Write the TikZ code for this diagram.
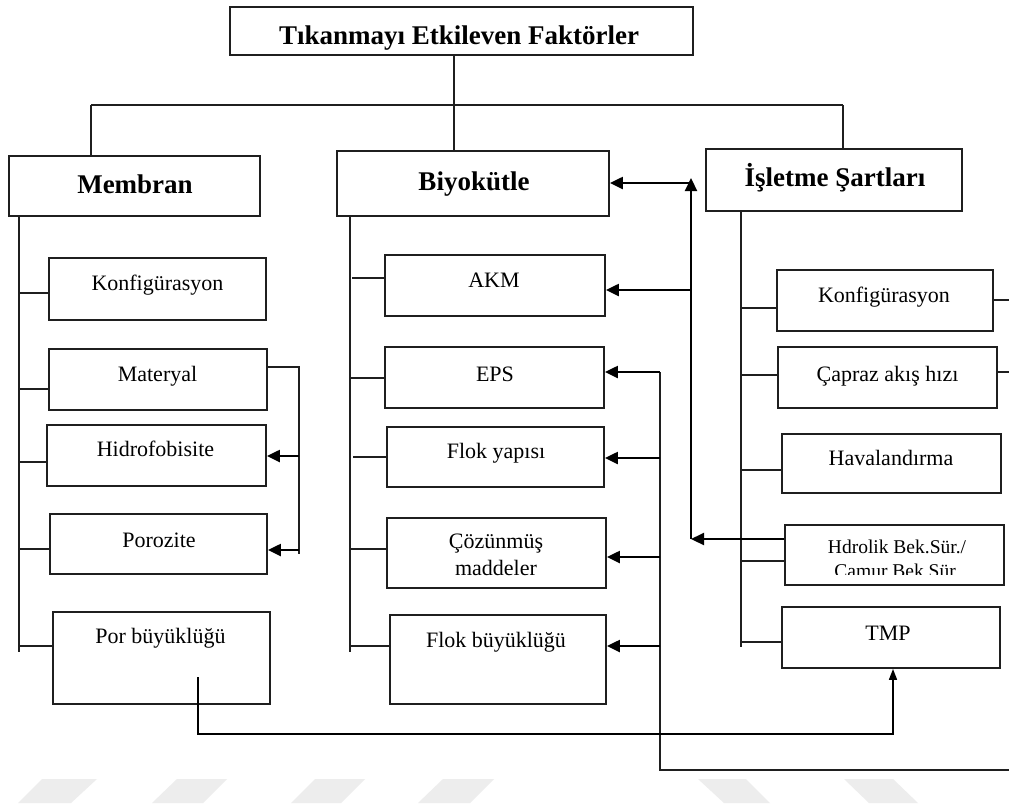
\documentclass[tikz,border=0pt]{standalone}
\usepackage{fontspec}
\setmainfont{Liberation Serif}
\usetikzlibrary{arrows.meta}
\begin{document}
\begin{tikzpicture}[x=1pt,y=-1pt,
 box/.style={draw=black!88, line width=1.8pt, inner sep=0pt, fill=white},
 ln/.style={line width=1.6pt, draw=black!88},
 arr/.style={line width=2.2pt, draw=black, -{Triangle[length=13pt,width=12pt]}},
 arrs/.style={line width=1.6pt, draw=black, -{Triangle[length=11pt,width=8pt]}},
 ttl/.style={font=\fontsize{27}{30}\selectfont\bfseries, inner sep=0pt, anchor=base},
 lbl/.style={font=\fontsize{22}{26}\selectfont, inner sep=0pt, anchor=base},
 sml/.style={font=\fontsize{19.5}{23}\selectfont, inner sep=0pt, anchor=base},
 wm/.style={fill=black!7, draw=none}]
\useasboundingbox (0,0) rectangle (1009,804);
\fill[white] (0,0) rectangle (1009,804);

% watermark
\fill[wm] (18,803) -- (42,779) -- (97,779) -- (71,803) -- cycle;
\fill[wm] (152,803) -- (177,779) -- (227,779) -- (203,803) -- cycle;
\fill[wm] (291,803) -- (315,779) -- (365,779) -- (341,803) -- cycle;
\fill[wm] (418,803) -- (443,779) -- (494,779) -- (470,803) -- cycle;
\fill[wm] (698,779) -- (746,779) -- (770,803) -- (724,803) -- cycle;
\fill[wm] (844,779) -- (893,779) -- (918,803) -- (869,803) -- cycle;

% boxes
\node[box, minimum width=463pt, minimum height=48pt] (top) at (461.5,31) {};
\node[box, minimum width=251pt, minimum height=60pt] (mem) at (134.5,186) {};
\node[box, minimum width=272pt, minimum height=65pt] (bio) at (473,183.5) {};
\node[box, minimum width=256pt, minimum height=62pt] (isl) at (834,180) {};

\node[box, minimum width=217pt, minimum height=62pt] (mk) at (157.5,289) {};
\node[box, minimum width=218pt, minimum height=61pt] (mat) at (158,379.5) {};
\node[box, minimum width=219pt, minimum height=61pt] (hid) at (156.5,455.5) {};
\node[box, minimum width=217pt, minimum height=60pt] (por) at (158.5,544) {};
\node[box, minimum width=217pt, minimum height=92pt] (pb) at (161.5,658) {};

\node[box, minimum width=220pt, minimum height=61pt] (akm) at (495,285.5) {};
\node[box, minimum width=219pt, minimum height=61pt] (eps) at (494.5,377.5) {};
\node[box, minimum width=217pt, minimum height=60pt] (fy) at (495.5,457) {};
\node[box, minimum width=219pt, minimum height=70pt] (cm) at (496.5,553) {};
\node[box, minimum width=216pt, minimum height=89pt] (fb) at (498,659.5) {};

\node[box, minimum width=216pt, minimum height=61pt] (ik) at (885,300.5) {};
\node[box, minimum width=219pt, minimum height=61pt] (cap) at (887.5,377.5) {};
\node[box, minimum width=219pt, minimum height=59pt] (hav) at (891.5,463.5) {};
\node[box, minimum width=219pt, minimum height=60pt] (hdr) at (894.5,555) {};
\node[box, minimum width=218pt, minimum height=61pt] (tmp) at (891,637.5) {};

% labels
\node[ttl] (lTop) at (459,44) {Tıkanmayı Etkileven Faktörler};
\node[ttl] (lMem) at (135,193) {Membran};
\node[ttl] (lBio) at (474,190) {Biyokütle};
\node[ttl] (lIsl) at (835,186) {İşletme Şartları};

\node[lbl] (lMk) at (157.5,290) {Konfigürasyon};
\node[lbl] (lMat) at (157.5,381) {Materyal};
\node[lbl] (lHid) at (155.5,456) {Hidrofobisite};
\node[lbl] (lPor) at (159,547) {Porozite};
\node[lbl] (lPb) at (160.5,643) {Por büyüklüğü};

\node[lbl] (lAkm) at (494,287) {AKM};
\node[lbl] (lEps) at (495,381) {EPS};
\node[lbl] (lFy) at (496,458) {Flok yapısı};
\node[lbl] (lCm1) at (496,548) {Çözünmüş};
\node[lbl] (lCm2) at (496,575) {maddeler};
\node[lbl] (lFb) at (496,647) {Flok büyüklüğü};

\node[lbl] (lIk) at (884,302) {Konfigürasyon};
\node[lbl] (lCap) at (887.5,381) {Çapraz akış hızı};
\node[lbl] (lHav) at (891,465) {Havalandırma};
\begin{scope}
\clip (786,526) rectangle (1003,574);
\node[sml] (lHdr1) at (897,553) {Hdrolik Bek.Sür./};
\node[sml] (lHdr2) at (897,577) {Çamur Bek.Sür.};
\end{scope}
\node[lbl] (lTmp) at (888,640) {TMP};

% top bus
\coordinate (bus) at (454,105);
\coordinate (busL) at (91,105);
\coordinate (busR) at (843,105);
\draw[ln] (top.south -| bus) -- (bus);
\draw[ln] (busL) -- (busR);
\draw[ln] (busL) -- (busL |- mem.north);
\draw[ln] (bus) -- (bus |- bio.north);
\draw[ln] (busR) -- (busR |- isl.north);

% Membran spine
\coordinate (msE) at (19,652);
\draw[ln] (msE |- mem.south) -- (msE);
\coordinate (m1) at (19,293); \draw[ln] (m1) -- (m1 -| mk.west);
\coordinate (m2) at (19,389); \draw[ln] (m2) -- (m2 -| mat.west);
\coordinate (m3) at (19,462); \draw[ln] (m3) -- (m3 -| hid.west);
\coordinate (m4) at (19,549); \draw[ln] (m4) -- (m4 -| por.west);
\coordinate (m5) at (19,646); \draw[ln] (m5) -- (m5 -| pb.west);

% Biyokutle spine
\coordinate (bsE) at (350,652);
\draw[ln] (bsE |- bio.south) -- (bsE);
\coordinate (b1) at (352,278); \draw[ln] (b1) -- (b1 -| akm.west);
\coordinate (b2) at (350,378); \draw[ln] (b2) -- (b2 -| eps.west);
\coordinate (b3) at (353,457); \draw[ln] (b3) -- (b3 -| fy.west);
\coordinate (b4) at (350,549); \draw[ln] (b4) -- (b4 -| cm.west);
\coordinate (b5) at (350,646); \draw[ln] (b5) -- (b5 -| fb.west);

% Isletme spine
\coordinate (isE) at (741,647);
\draw[ln] (isE |- isl.south) -- (isE);
\coordinate (i1) at (741,308); \draw[ln] (i1) -- (i1 -| ik.west);
\coordinate (i2) at (741,375); \draw[ln] (i2) -- (i2 -| cap.west);
\coordinate (i3) at (741,470); \draw[ln] (i3) -- (i3 -| hav.west);
\coordinate (i4) at (741,561); \draw[ln] (i4) -- (i4 -| hdr.west);
\coordinate (i5) at (741,642); \draw[ln] (i5) -- (i5 -| tmp.west);

% right stubs
\coordinate (ikR) at (1009,300); \draw[ln] (ik.east |- ikR) -- (ikR);
\coordinate (capR) at (1009,372); \draw[ln] (cap.east |- capR) -- (capR);

% Materyal bracket
\coordinate (mbT) at (299,367);
\coordinate (mbB) at (299,554);
\draw[ln] (mat.east |- mbT) -- (mbT) -- (mbB);
\coordinate (mh) at (299,456); \draw[arr] (mh) -- (mh -| hid.east);
\coordinate (mp) at (299,550); \draw[arr] (mp) -- (mp -| por.east);

% Hidrolik -> Biyokutle / AKM
\coordinate (hv) at (691,539);
\coordinate (hvT) at (691,178);
\draw[arr] (hdr.west |- hv) -- (hv);
\draw[arr] (hv) -- (hvT);
\coordinate (hb) at (691,183); \draw[arr] (hb) -- (hb -| bio.east);
\coordinate (ha) at (691,290); \draw[arr] (ha) -- (ha -| akm.east);

% right vertical x=660
\coordinate (ev) at (660,372);
\coordinate (evB) at (660,770);
\coordinate (evR) at (1009,770);
\draw[ln] (ev) -- (evB) -- (evR);
\draw[arr] (ev) -- (ev -| eps.east);
\coordinate (e2) at (660,458); \draw[arr] (e2) -- (e2 -| fy.east);
\coordinate (e3) at (660,557); \draw[arr] (e3) -- (e3 -| cm.east);
\coordinate (e4) at (660,646); \draw[arr] (e4) -- (e4 -| fb.east);

% Por buyuklugu -> TMP
\coordinate (p1) at (198,677);
\coordinate (p2) at (198,734);
\coordinate (p3) at (893,734);
\draw[arrs] (p1) -- (p2) -- (p3) -- (p3 |- tmp.south);
\end{tikzpicture}
\end{document}
